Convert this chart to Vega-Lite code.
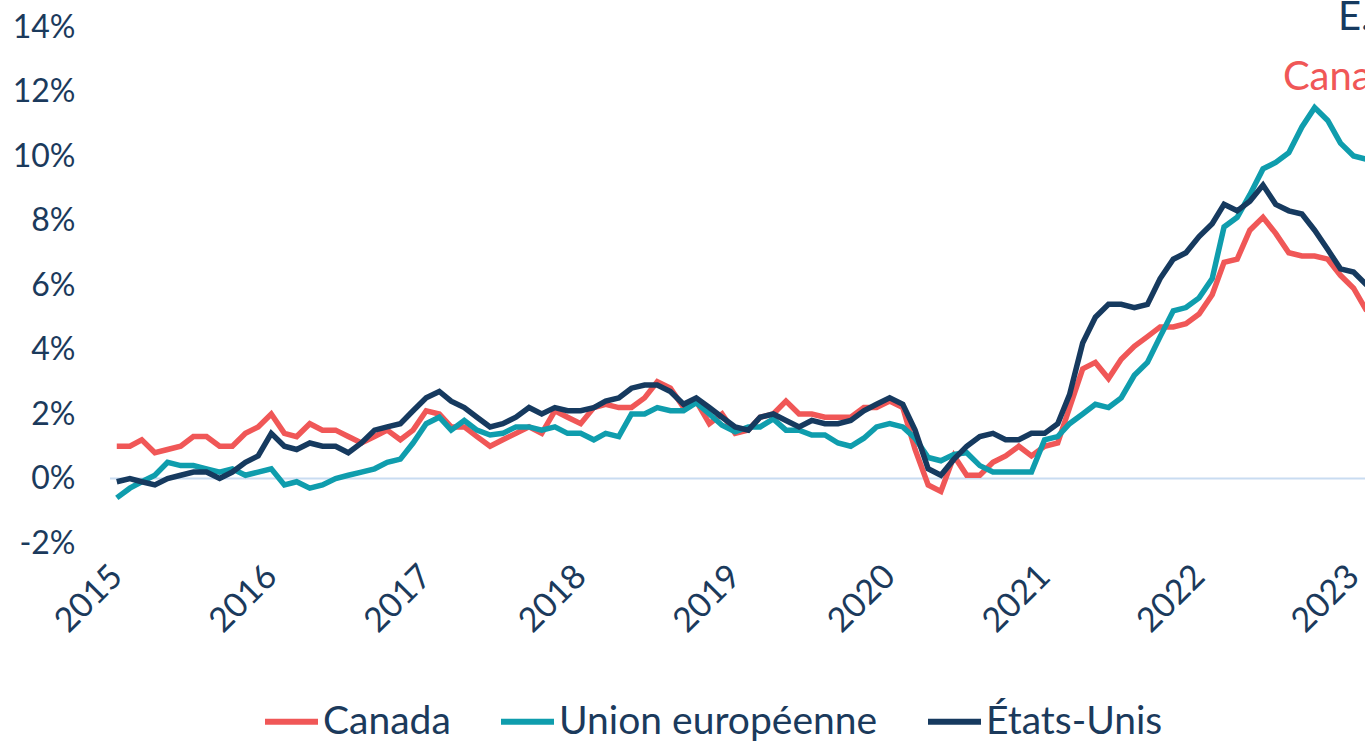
{
  "$schema": "https://vega.github.io/schema/vega-lite/v6.json",
  "autosize": {"type": "none"},
  "width": 1255,
  "height": 516,
  "padding": {"left": 110, "top": 27, "right": 0, "bottom": 201},
  "background": "white",
  "config": {"view": {"stroke": null}, "font": "Lato"},
  "datasets": {
    "cpi": [
      {"date": "2015-01-01", "Canada": 1.0, "Union européenne": -0.6, "États-Unis": -0.1},
      {"date": "2015-02-01", "Canada": 1.0, "Union européenne": -0.3, "États-Unis": 0.0},
      {"date": "2015-03-01", "Canada": 1.2, "Union européenne": -0.1, "États-Unis": -0.1},
      {"date": "2015-04-01", "Canada": 0.8, "Union européenne": 0.1, "États-Unis": -0.2},
      {"date": "2015-05-01", "Canada": 0.9, "Union européenne": 0.5, "États-Unis": 0.0},
      {"date": "2015-06-01", "Canada": 1.0, "Union européenne": 0.4, "États-Unis": 0.1},
      {"date": "2015-07-01", "Canada": 1.3, "Union européenne": 0.4, "États-Unis": 0.2},
      {"date": "2015-08-01", "Canada": 1.3, "Union européenne": 0.3, "États-Unis": 0.2},
      {"date": "2015-09-01", "Canada": 1.0, "Union européenne": 0.2, "États-Unis": 0.0},
      {"date": "2015-10-01", "Canada": 1.0, "Union européenne": 0.3, "États-Unis": 0.2},
      {"date": "2015-11-01", "Canada": 1.4, "Union européenne": 0.1, "États-Unis": 0.5},
      {"date": "2015-12-01", "Canada": 1.6, "Union européenne": 0.2, "États-Unis": 0.7},
      {"date": "2016-01-01", "Canada": 2.0, "Union européenne": 0.3, "États-Unis": 1.4},
      {"date": "2016-02-01", "Canada": 1.4, "Union européenne": -0.2, "États-Unis": 1.0},
      {"date": "2016-03-01", "Canada": 1.3, "Union européenne": -0.1, "États-Unis": 0.9},
      {"date": "2016-04-01", "Canada": 1.7, "Union européenne": -0.3, "États-Unis": 1.1},
      {"date": "2016-05-01", "Canada": 1.5, "Union européenne": -0.2, "États-Unis": 1.0},
      {"date": "2016-06-01", "Canada": 1.5, "Union européenne": 0.0, "États-Unis": 1.0},
      {"date": "2016-07-01", "Canada": 1.3, "Union européenne": 0.1, "États-Unis": 0.8},
      {"date": "2016-08-01", "Canada": 1.1, "Union européenne": 0.2, "États-Unis": 1.1},
      {"date": "2016-09-01", "Canada": 1.3, "Union européenne": 0.3, "États-Unis": 1.5},
      {"date": "2016-10-01", "Canada": 1.5, "Union européenne": 0.5, "États-Unis": 1.6},
      {"date": "2016-11-01", "Canada": 1.2, "Union européenne": 0.6, "États-Unis": 1.7},
      {"date": "2016-12-01", "Canada": 1.5, "Union européenne": 1.1, "États-Unis": 2.1},
      {"date": "2017-01-01", "Canada": 2.1, "Union européenne": 1.7, "États-Unis": 2.5},
      {"date": "2017-02-01", "Canada": 2.0, "Union européenne": 1.9, "États-Unis": 2.7},
      {"date": "2017-03-01", "Canada": 1.6, "Union européenne": 1.5, "États-Unis": 2.4},
      {"date": "2017-04-01", "Canada": 1.6, "Union européenne": 1.8, "États-Unis": 2.2},
      {"date": "2017-05-01", "Canada": 1.3, "Union européenne": 1.5, "États-Unis": 1.9},
      {"date": "2017-06-01", "Canada": 1.0, "Union européenne": 1.35, "États-Unis": 1.6},
      {"date": "2017-07-01", "Canada": 1.2, "Union européenne": 1.4, "États-Unis": 1.7},
      {"date": "2017-08-01", "Canada": 1.4, "Union européenne": 1.6, "États-Unis": 1.9},
      {"date": "2017-09-01", "Canada": 1.6, "Union européenne": 1.6, "États-Unis": 2.2},
      {"date": "2017-10-01", "Canada": 1.4, "Union européenne": 1.5, "États-Unis": 2.0},
      {"date": "2017-11-01", "Canada": 2.1, "Union européenne": 1.6, "États-Unis": 2.2},
      {"date": "2017-12-01", "Canada": 1.9, "Union européenne": 1.4, "États-Unis": 2.1},
      {"date": "2018-01-01", "Canada": 1.7, "Union européenne": 1.4, "États-Unis": 2.1},
      {"date": "2018-02-01", "Canada": 2.2, "Union européenne": 1.2, "États-Unis": 2.2},
      {"date": "2018-03-01", "Canada": 2.3, "Union européenne": 1.4, "États-Unis": 2.4},
      {"date": "2018-04-01", "Canada": 2.2, "Union européenne": 1.3, "États-Unis": 2.5},
      {"date": "2018-05-01", "Canada": 2.2, "Union européenne": 2.0, "États-Unis": 2.8},
      {"date": "2018-06-01", "Canada": 2.5, "Union européenne": 2.0, "États-Unis": 2.9},
      {"date": "2018-07-01", "Canada": 3.0, "Union européenne": 2.2, "États-Unis": 2.9},
      {"date": "2018-08-01", "Canada": 2.8, "Union européenne": 2.1, "États-Unis": 2.7},
      {"date": "2018-09-01", "Canada": 2.2, "Union européenne": 2.1, "États-Unis": 2.3},
      {"date": "2018-10-01", "Canada": 2.4, "Union européenne": 2.35, "États-Unis": 2.5},
      {"date": "2018-11-01", "Canada": 1.7, "Union européenne": 2.0, "États-Unis": 2.2},
      {"date": "2018-12-01", "Canada": 2.0, "Union européenne": 1.65, "États-Unis": 1.9},
      {"date": "2019-01-01", "Canada": 1.4, "Union européenne": 1.45, "États-Unis": 1.6},
      {"date": "2019-02-01", "Canada": 1.5, "Union européenne": 1.6, "États-Unis": 1.5},
      {"date": "2019-03-01", "Canada": 1.9, "Union européenne": 1.6, "États-Unis": 1.9},
      {"date": "2019-04-01", "Canada": 2.0, "Union européenne": 1.85, "États-Unis": 2.0},
      {"date": "2019-05-01", "Canada": 2.4, "Union européenne": 1.5, "États-Unis": 1.8},
      {"date": "2019-06-01", "Canada": 2.0, "Union européenne": 1.5, "États-Unis": 1.6},
      {"date": "2019-07-01", "Canada": 2.0, "Union européenne": 1.35, "États-Unis": 1.8},
      {"date": "2019-08-01", "Canada": 1.9, "Union européenne": 1.35, "États-Unis": 1.7},
      {"date": "2019-09-01", "Canada": 1.9, "Union européenne": 1.1, "États-Unis": 1.7},
      {"date": "2019-10-01", "Canada": 1.9, "Union européenne": 1.0, "États-Unis": 1.8},
      {"date": "2019-11-01", "Canada": 2.2, "Union européenne": 1.25, "États-Unis": 2.1},
      {"date": "2019-12-01", "Canada": 2.2, "Union européenne": 1.6, "États-Unis": 2.3},
      {"date": "2020-01-01", "Canada": 2.4, "Union européenne": 1.7, "États-Unis": 2.5},
      {"date": "2020-02-01", "Canada": 2.2, "Union européenne": 1.6, "États-Unis": 2.3},
      {"date": "2020-03-01", "Canada": 0.9, "Union européenne": 1.25, "États-Unis": 1.5},
      {"date": "2020-04-01", "Canada": -0.2, "Union européenne": 0.65, "États-Unis": 0.3},
      {"date": "2020-05-01", "Canada": -0.4, "Union européenne": 0.55, "États-Unis": 0.1},
      {"date": "2020-06-01", "Canada": 0.7, "Union européenne": 0.75, "États-Unis": 0.6},
      {"date": "2020-07-01", "Canada": 0.1, "Union européenne": 0.8, "États-Unis": 1.0},
      {"date": "2020-08-01", "Canada": 0.1, "Union européenne": 0.4, "États-Unis": 1.3},
      {"date": "2020-09-01", "Canada": 0.5, "Union européenne": 0.2, "États-Unis": 1.4},
      {"date": "2020-10-01", "Canada": 0.7, "Union européenne": 0.2, "États-Unis": 1.2},
      {"date": "2020-11-01", "Canada": 1.0, "Union européenne": 0.2, "États-Unis": 1.2},
      {"date": "2020-12-01", "Canada": 0.7, "Union européenne": 0.2, "États-Unis": 1.4},
      {"date": "2021-01-01", "Canada": 1.0, "Union européenne": 1.2, "États-Unis": 1.4},
      {"date": "2021-02-01", "Canada": 1.1, "Union européenne": 1.3, "États-Unis": 1.7},
      {"date": "2021-03-01", "Canada": 2.2, "Union européenne": 1.7, "États-Unis": 2.6},
      {"date": "2021-04-01", "Canada": 3.4, "Union européenne": 2.0, "États-Unis": 4.2},
      {"date": "2021-05-01", "Canada": 3.6, "Union européenne": 2.3, "États-Unis": 5.0},
      {"date": "2021-06-01", "Canada": 3.1, "Union européenne": 2.2, "États-Unis": 5.4},
      {"date": "2021-07-01", "Canada": 3.7, "Union européenne": 2.5, "États-Unis": 5.4},
      {"date": "2021-08-01", "Canada": 4.1, "Union européenne": 3.2, "États-Unis": 5.3},
      {"date": "2021-09-01", "Canada": 4.4, "Union européenne": 3.6, "États-Unis": 5.4},
      {"date": "2021-10-01", "Canada": 4.7, "Union européenne": 4.4, "États-Unis": 6.2},
      {"date": "2021-11-01", "Canada": 4.7, "Union européenne": 5.2, "États-Unis": 6.8},
      {"date": "2021-12-01", "Canada": 4.8, "Union européenne": 5.3, "États-Unis": 7.0},
      {"date": "2022-01-01", "Canada": 5.1, "Union européenne": 5.6, "États-Unis": 7.5},
      {"date": "2022-02-01", "Canada": 5.7, "Union européenne": 6.2, "États-Unis": 7.9},
      {"date": "2022-03-01", "Canada": 6.7, "Union européenne": 7.8, "États-Unis": 8.5},
      {"date": "2022-04-01", "Canada": 6.8, "Union européenne": 8.1, "États-Unis": 8.3},
      {"date": "2022-05-01", "Canada": 7.7, "Union européenne": 8.8, "États-Unis": 8.6},
      {"date": "2022-06-01", "Canada": 8.1, "Union européenne": 9.6, "États-Unis": 9.1},
      {"date": "2022-07-01", "Canada": 7.6, "Union européenne": 9.8, "États-Unis": 8.5},
      {"date": "2022-08-01", "Canada": 7.0, "Union européenne": 10.1, "États-Unis": 8.3},
      {"date": "2022-09-01", "Canada": 6.9, "Union européenne": 10.9, "États-Unis": 8.2},
      {"date": "2022-10-01", "Canada": 6.9, "Union européenne": 11.5, "États-Unis": 7.7},
      {"date": "2022-11-01", "Canada": 6.8, "Union européenne": 11.1, "États-Unis": 7.1},
      {"date": "2022-12-01", "Canada": 6.3, "Union européenne": 10.4, "États-Unis": 6.5},
      {"date": "2023-01-01", "Canada": 5.9, "Union européenne": 10.0, "États-Unis": 6.4},
      {"date": "2023-02-01", "Canada": 5.2, "Union européenne": 9.9, "États-Unis": 6.0}
    ],
    "notes": [
      {"date": "2022-11-25", "v": 13.9, "label": "É.-U."},
      {"date": "2022-07-18", "v": 12.06, "label": "Canada"}
    ]
  },
  "layer": [
    {
      "data": {"values": [{}]},
      "mark": {"type": "rule", "color": "#C9DCF1", "strokeWidth": 2},
      "encoding": {"y": {"datum": 0, "type": "quantitative"}}
    },
    {
      "data": {"name": "cpi"},
      "transform": [{"fold": ["Canada", "Union européenne", "États-Unis"], "as": ["serie", "valeur"]}],
      "mark": {"type": "line", "strokeWidth": 5.5, "clip": true},
      "encoding": {
        "x": {
          "field": "date", "type": "temporal",
          "scale": {"type": "utc", "nice": false, "domain": [{"year": 2014, "month": 12, "date": 16, "utc": true}, {"year": 2023, "month": 1, "date": 28, "utc": true}]},
          "axis": {"format": "%Y", "tickCount": {"interval": "year", "step": 1}, "labelAngle": -45, "labelAlign": "right", "labelBaseline": "middle", "labelPadding": 28, "labelFontSize": 34, "labelColor": "#1B3A5C", "ticks": false, "domain": false, "grid": false, "title": null, "labelFlush": false, "labelOverlap": false, "labelBound": false}
        },
        "y": {
          "field": "valeur", "type": "quantitative",
          "scale": {"domain": [-2, 14], "nice": false, "zero": false},
          "axis": {"values": [-2, 0, 2, 4, 6, 8, 10, 12, 14], "labelExpr": "datum.value + '%'", "labelPadding": 35, "labelFontSize": 32, "labelColor": "#1B3A5C", "ticks": false, "domain": false, "grid": false, "title": null}
        },
        "color": {
          "field": "serie", "type": "nominal",
          "scale": {"domain": ["Canada", "Union européenne", "États-Unis"], "range": ["#F05757", "#0F9DAD", "#163A5F"]},
          "legend": {"orient": "none", "legendX": 152, "legendY": 665, "direction": "horizontal", "title": null, "symbolType": "stroke", "symbolSize": 2809, "symbolStrokeWidth": 6, "labelFontSize": 39, "labelColor": "#1B3A5C", "labelOffset": 2, "columnPadding": 38, "labelLimit": 1000, "padding": 0}
        }
      }
    },
    {
      "data": {"name": "notes"},
      "transform": [{"filter": "datum.label == 'É.-U.'"}],
      "mark": {"type": "text", "align": "left", "baseline": "alphabetic", "fontSize": 40, "color": "#163A5F"},
      "encoding": {
        "x": {"field": "date", "type": "temporal"},
        "y": {"field": "v", "type": "quantitative"},
        "text": {"field": "label"}
      }
    },
    {
      "data": {"name": "notes"},
      "transform": [{"filter": "datum.label == 'Canada'"}],
      "mark": {"type": "text", "align": "left", "baseline": "alphabetic", "fontSize": 40, "color": "#F05757"},
      "encoding": {
        "x": {"field": "date", "type": "temporal"},
        "y": {"field": "v", "type": "quantitative"},
        "text": {"field": "label"}
      }
    }
  ]
}
